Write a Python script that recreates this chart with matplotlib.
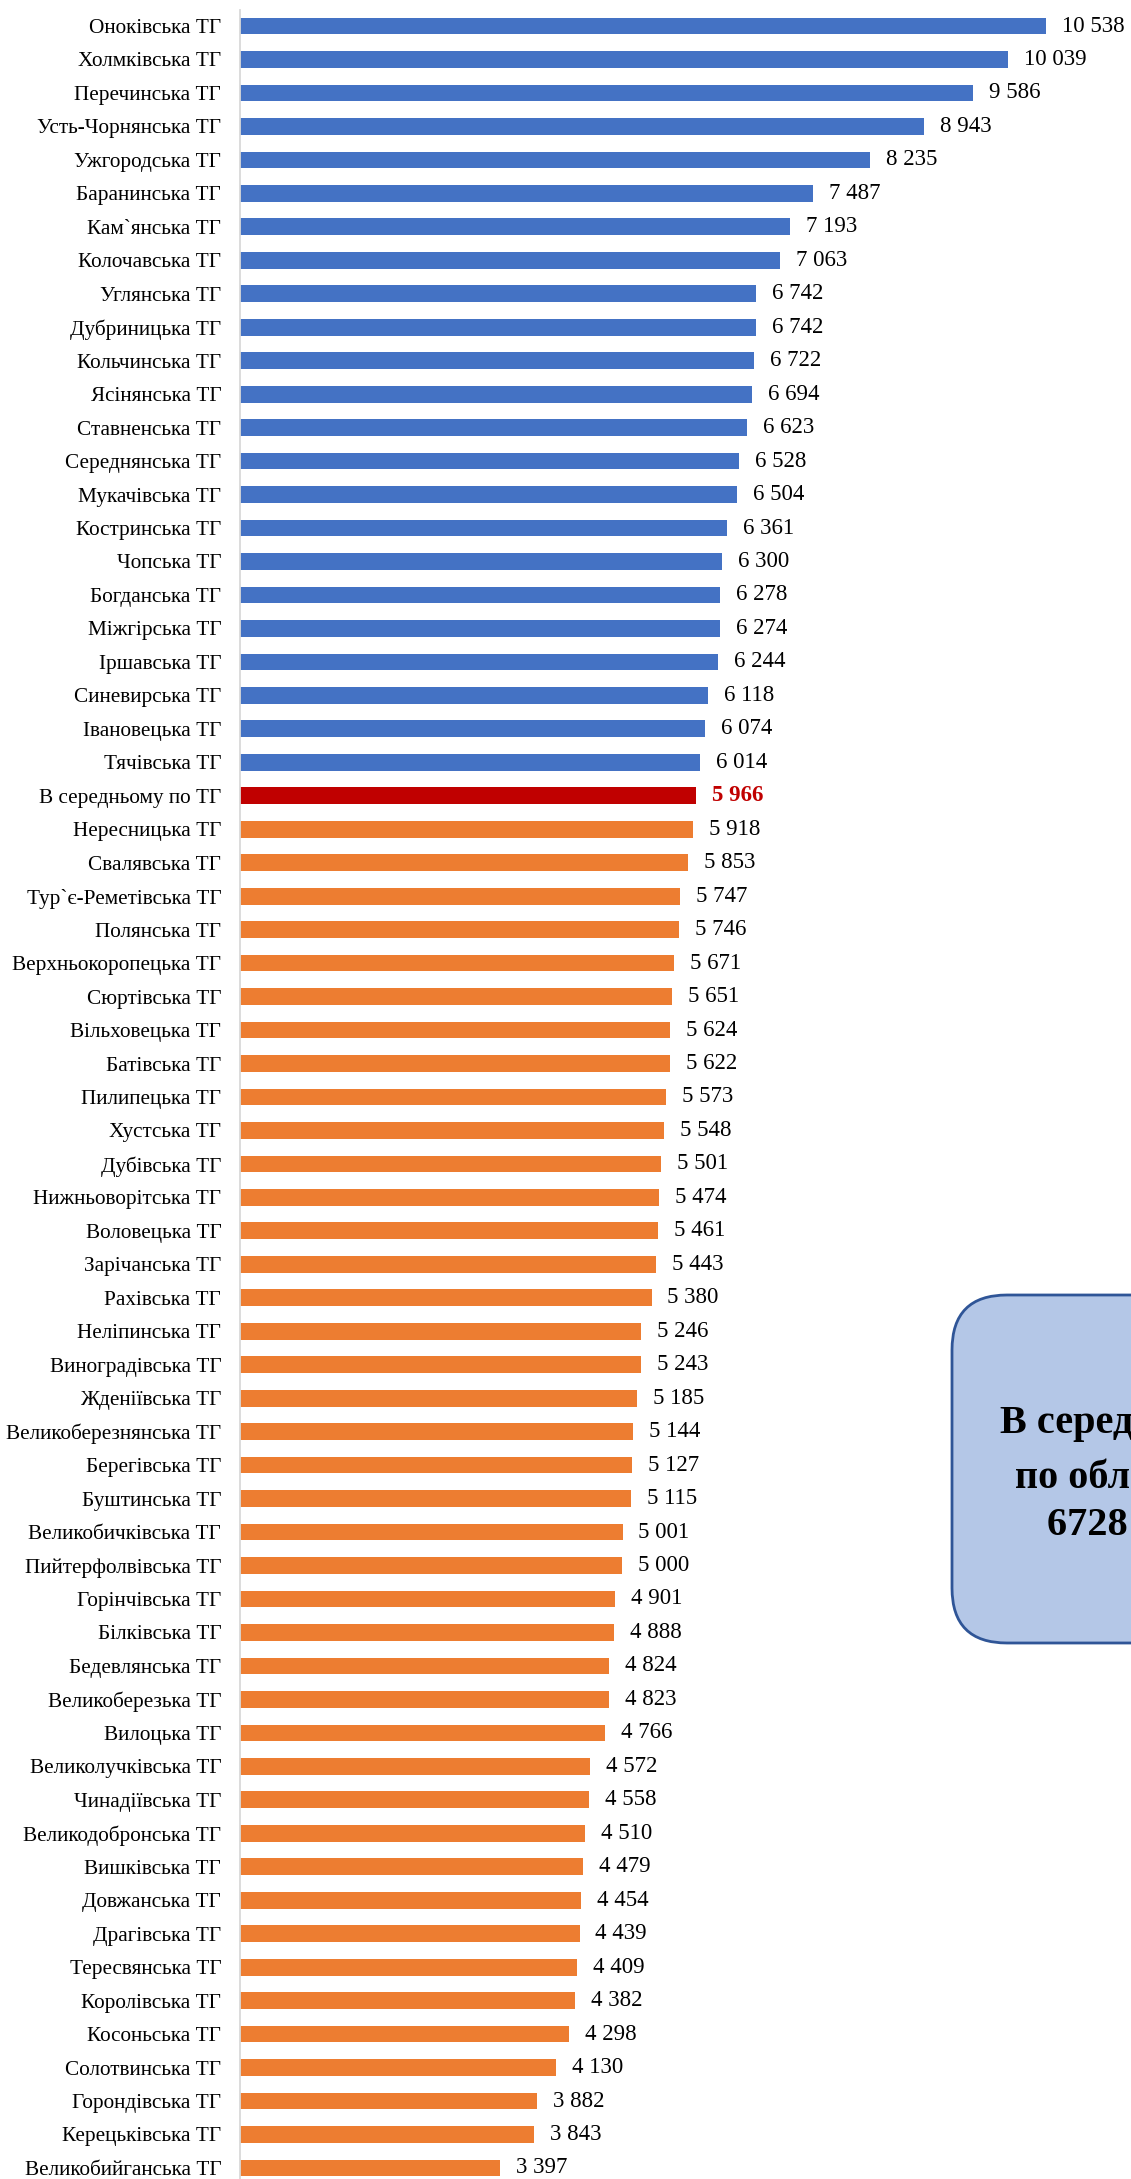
import matplotlib.pyplot as plt
from matplotlib.patches import FancyBboxPatch
import numpy as np

plt.rcParams['font.family'] = ['Liberation Serif', 'DejaVu Serif']

names = [
    "Оноківська ТГ", "Холмківська ТГ", "Перечинська ТГ", "Усть-Чорнянська ТГ",
    "Ужгородська ТГ", "Баранинська ТГ", "Кам`янська ТГ", "Колочавська ТГ",
    "Углянська ТГ", "Дубриницька ТГ", "Кольчинська ТГ", "Ясінянська ТГ",
    "Ставненська ТГ", "Середнянська ТГ", "Мукачівська ТГ", "Костринська ТГ",
    "Чопська ТГ", "Богданська ТГ", "Міжгірська ТГ", "Іршавська ТГ",
    "Синевирська ТГ", "Івановецька ТГ", "Тячівська ТГ", "В середньому по ТГ",
    "Нересницька ТГ", "Свалявська ТГ", "Тур`є-Реметівська ТГ", "Полянська ТГ",
    "Верхньокоропецька ТГ", "Сюртівська ТГ", "Вільховецька ТГ", "Батівська ТГ",
    "Пилипецька ТГ", "Хустська ТГ", "Дубівська ТГ", "Нижньоворітська ТГ",
    "Воловецька ТГ", "Зарічанська ТГ", "Рахівська ТГ", "Неліпинська ТГ",
    "Виноградівська ТГ", "Жденіївська ТГ", "Великоберезнянська ТГ", "Берегівська ТГ",
    "Буштинська ТГ", "Великобичківська ТГ", "Пийтерфолвівська ТГ", "Горінчівська ТГ",
    "Білківська ТГ", "Бедевлянська ТГ", "Великоберезька ТГ", "Вилоцька ТГ",
    "Великолучківська ТГ", "Чинадіївська ТГ", "Великодобронська ТГ", "Вишківська ТГ",
    "Довжанська ТГ", "Драгівська ТГ", "Тересвянська ТГ", "Королівська ТГ",
    "Косоньська ТГ", "Солотвинська ТГ", "Горондівська ТГ", "Керецьківська ТГ",
    "Великобийганська ТГ",
]
values = [
    10538, 10039, 9586, 8943, 8235, 7487, 7193, 7063,
    6742, 6742, 6722, 6694, 6623, 6528, 6504, 6361,
    6300, 6278, 6274, 6244, 6118, 6074, 6014, 5966,
    5918, 5853, 5747, 5746, 5671, 5651, 5624, 5622,
    5573, 5548, 5501, 5474, 5461, 5443, 5380, 5246,
    5243, 5185, 5144, 5127, 5115, 5001, 5000, 4901,
    4888, 4824, 4823, 4766, 4572, 4558, 4510, 4479,
    4454, 4439, 4409, 4382, 4298, 4130, 3882, 3843,
    3397,
]
avg_name = "В середньому по ТГ"
box_lines = ["В середньому", "по області", "6728 грн"]

W, H = 1131, 2179
fig = plt.figure(figsize=(W / 100, H / 100), dpi=100)
ax = fig.add_axes([240 / W, 0, 1 - 240 / W, 1])

y = np.arange(len(names))
avg_val = values[names.index(avg_name)]
colors = []
for n, v in zip(names, values):
    if n == avg_name:
        colors.append('#C00000')
    elif v > avg_val:
        colors.append('#4472C4')
    else:
        colors.append('#ED7D31')

ax.barh(y, values, height=0.5, color=colors)
ax.set_ylim(64.33, -0.777)
ax.set_xlim(0, 11649)

for s in ['top', 'right', 'bottom']:
    ax.spines[s].set_visible(False)
ax.spines['left'].set_color('#d9d9d9')
ax.spines['left'].set_linewidth(1.3)
ax.spines['left'].set_bounds(-0.48, 64.33)
ax.set_xticks([])
ax.set_yticks(y)
ax.set_yticklabels(names, fontsize=15.3)
ax.tick_params(axis='y', length=0, pad=13.5)

for i, (n, v) in enumerate(zip(names, values)):
    lbl = f"{v:,}".replace(",", " ")
    if n == avg_name:
        ax.annotate(lbl, (v, i), xytext=(11.5, 0), textcoords='offset points',
                    va='center', fontsize=16.5, color='#C00000', weight='bold')
    else:
        ax.annotate(lbl, (v, i), xytext=(11.5, 0), textcoords='offset points',
                    va='center', fontsize=16.5, color='black')

# callout box with the regional average (runs off the right edge)
box = FancyBboxPatch((952 / 100, (H - 1643) / 100), 3.36, (1643 - 1295) / 100,
                     boxstyle="round,pad=0,rounding_size=0.55",
                     transform=fig.dpi_scale_trans,
                     fc='#B4C7E7', ec='#2F5597', lw=2)
fig.add_artist(box)
# left edge and baseline of each line, in pixels
line_x = [1000, 1015, 1047]
line_y = [1433, 1488, 1535]
for txt, lx, ly in zip(box_lines, line_x, line_y):
    fig.text(lx / W, 1 - ly / H, txt, ha='left', va='baseline',
             fontsize=29, weight='bold')

fig.savefig("out.png", dpi=100)
